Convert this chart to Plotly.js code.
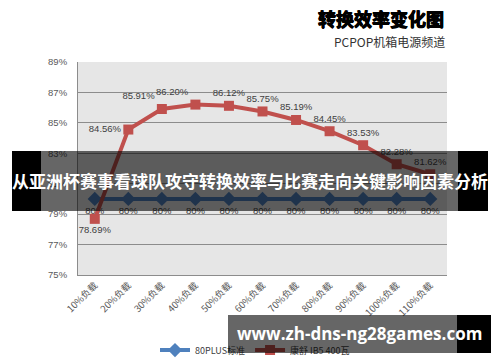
<!DOCTYPE html>
<html>
<head>
<meta charset="utf-8">
<script src="https://cdn.plot.ly/plotly-3.0.1.min.js"></script>
<style>
  html, body { margin: 0; padding: 0; background: #fff; }
  #wrap { position: relative; width: 500px; height: 362px; overflow: hidden; }
  #chart { position: absolute; left: 0; top: 0; width: 500px; height: 362px; }
  .ov { position: absolute; }
  .txt { position: absolute; color: #fff; font-weight: bold; white-space: nowrap; }
</style>
</head>
<body>
<div id="wrap">
  <div id="chart"></div>
  <!-- banner over the chart -->
  <div class="ov" style="left:12px;top:151px;width:29px;height:60px;background:#000;"></div>
  <div class="ov" style="left:41px;top:151px;width:417px;height:60px;background:rgba(0,0,0,0.6);"></div>
  <div class="ov" style="left:458px;top:151px;width:30px;height:60px;background:#000;"></div>
  <div class="txt" id="banner" style="left:0;top:170px;width:500px;text-align:center;font-family:'Noto Sans CJK SC';font-size:17px;line-height:22px;"></div>
  <!-- watermark -->
  <div class="ov" style="left:228px;top:315px;width:229px;height:38px;background:rgba(0,0,0,0.6);"></div>
  <div class="ov" style="left:457px;top:315px;width:34px;height:38px;background:#000;"></div>
  <div class="txt" id="wm" style="left:237px;top:322px;font-family:'Open Sans';font-size:17px;line-height:24px;"></div>
</div>
<script>
// ---- data ----
const categories = ['10%负载','20%负载','30%负载','40%负载','50%负载','60%负载','70%负载','80%负载','90%负载','100%负载','110%负载'];
const plus80 = [80, 80, 80, 80, 80, 80, 80, 80, 80, 80, 80];
const kangshu = [78.69, 84.56, 85.91, 86.20, 86.12, 85.75, 85.19, 84.45, 83.53, 82.28, 81.62];
const seriesNames = ['80PLUS标准', '康舒 IB5 400瓦'];
const chartTitle = '转换效率变化图';
const chartSubtitle = 'PCPOP机箱电源频道';
const bannerText = '从亚洲杯赛事看球队攻守转换效率与比赛走向关键影响因素分析';
const watermarkText = 'www.zh-dns-ng28games.com';

document.getElementById('banner').textContent = bannerText;
document.getElementById('wm').textContent = watermarkText;

// ---- styles ----
const redPos = ['bottom center','middle left','top left','top left','top center','top center','top center','top center','top center','top center','top center'];
const labelFont = {family: 'Liberation Sans, Arial, sans-serif', size: 9.5, color: '#404040'};

const traces = [
  {
    x: categories, y: plus80, name: seriesNames[0], type: 'scatter', mode: 'lines+markers+text',
    line: {color: '#4f81bd', width: 4},
    marker: {symbol: 'diamond', size: 11, color: '#4f81bd'},
    text: plus80.map(v => v + '%'), textposition: 'bottom center', textfont: labelFont,
    cliponaxis: false
  },
  {
    x: categories, y: kangshu, name: seriesNames[1], type: 'scatter', mode: 'lines+markers+text',
    line: {color: '#c0504d', width: 4},
    marker: {symbol: 'square', size: 10, color: '#c0504d'},
    text: kangshu.map(v => v.toFixed(2) + '%'), textposition: redPos, textfont: labelFont,
    cliponaxis: false
  }
];

const layout = {
  width: 500, height: 362, autosize: false,
  margin: {l: 78, r: 53, t: 62, b: 87, pad: 0},
  paper_bgcolor: '#ffffff', plot_bgcolor: '#e6e6e6',
  showlegend: true,
  legend: {
    orientation: 'h', xref: 'container', yref: 'container',
    x: 0.31, xanchor: 'left', y: 0.033, yanchor: 'middle',
    font: {family: 'Noto Sans CJK SC', size: 9, color: '#404040'},
    bgcolor: 'rgba(0,0,0,0)', itemwidth: 30, tracegroupgap: 0
  },
  xaxis: {
    type: 'category', range: [-0.5, 10.5], automargin: false,
    showgrid: false, showline: true, linecolor: '#8c8c8c', linewidth: 1,
    ticks: '', tickangle: -45,
    tickfont: {family: 'Noto Sans CJK SC', size: 9.5, color: '#595959'},
    zeroline: false, fixedrange: true
  },
  yaxis: {
    range: [75, 89], tick0: 75, dtick: 2, ticksuffix: '%', automargin: false,
    showgrid: true, gridcolor: '#8c8c8c', gridwidth: 1,
    showline: true, linecolor: '#8c8c8c', linewidth: 1,
    ticks: '', ticklabelstandoff: 8,
    tickfont: {family: 'Liberation Sans, Arial, sans-serif', size: 9.5, color: '#595959'},
    zeroline: false, fixedrange: true
  },
  annotations: [
    {text: '<b>' + chartTitle + '</b>', xref: 'paper', yref: 'paper', x: 0.997, y: 1.207,
     xanchor: 'right', yanchor: 'middle', showarrow: false,
     font: {family: 'Noto Sans CJK SC', size: 18, color: '#000000',
            shadow: '0.6px 0 0 #000, -0.6px 0 0 #000, 0 0.6px 0 #000'}},
    {text: chartSubtitle, xref: 'paper', yref: 'paper', x: 1.0, y: 1.094,
     xanchor: 'right', yanchor: 'middle', showarrow: false,
     font: {family: 'Noto Sans CJK SC', size: 12, color: '#333333'}}
  ]
};

Plotly.newPlot('chart', traces, layout, {displayModeBar: false, staticPlot: true});
</script>
</body>
</html>
